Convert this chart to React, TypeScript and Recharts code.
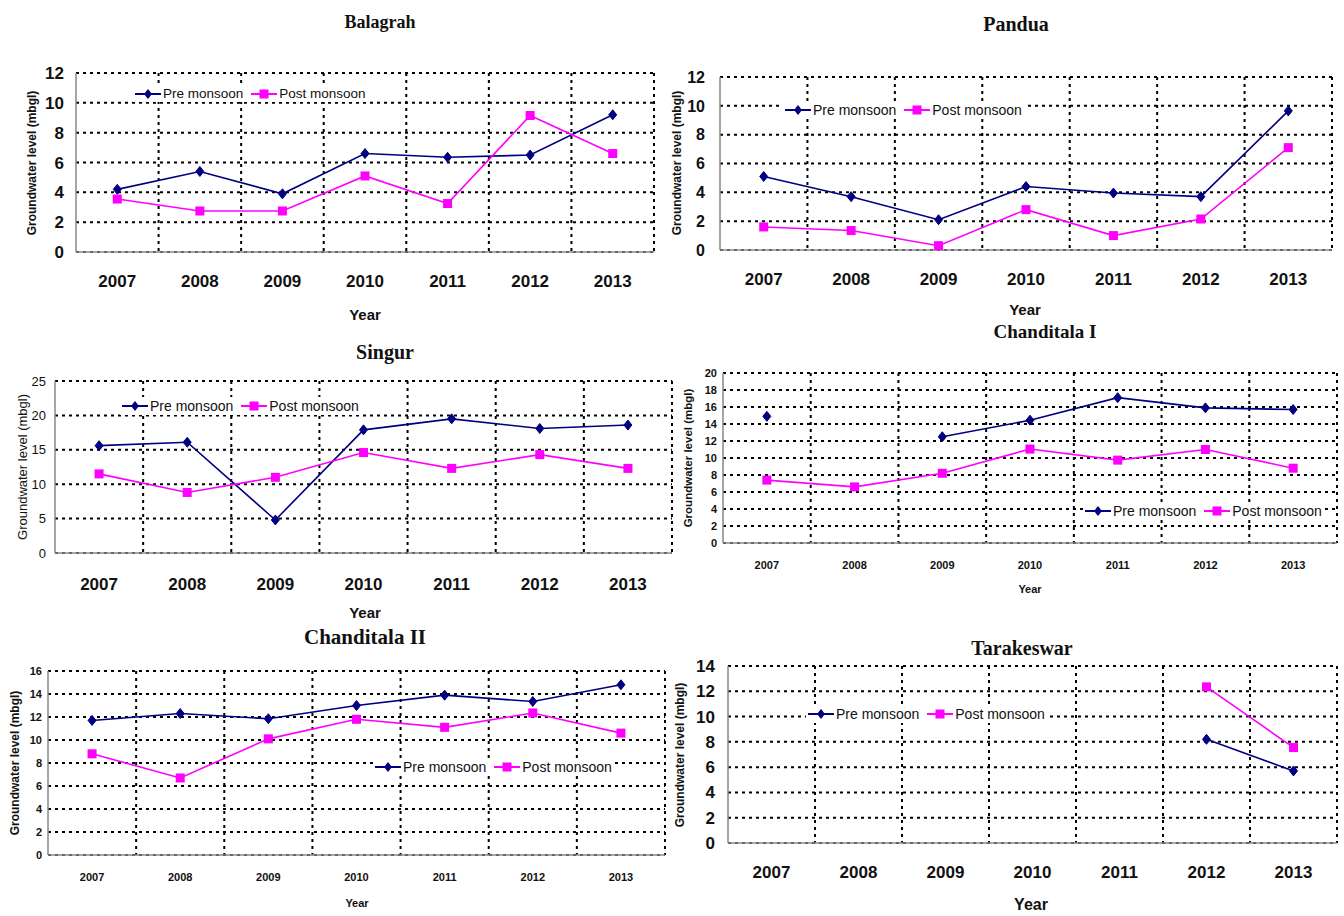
import React from "react";
import {
  CartesianGrid,
  Legend,
  Line,
  LineChart,
  XAxis,
  YAxis,
} from "recharts";

// ---- data ----
const years = ["2007", "2008", "2009", "2010", "2011", "2012", "2013"];

const balagrahPre = [4.2, 5.4, 3.9, 6.6, 6.35, 6.5, 9.2];
const balagrahPost = [3.55, 2.75, 2.75, 5.1, 3.25, 9.15, 6.6];

const panduaPre = [5.1, 3.7, 2.1, 4.4, 3.95, 3.7, 9.65];
const panduaPost = [1.6, 1.35, 0.3, 2.8, 1.0, 2.15, 7.1];

const singurPre = [15.6, 16.1, 4.8, 17.9, 19.5, 18.1, 18.6];
const singurPost = [11.5, 8.8, 11.0, 14.6, 12.3, 14.3, 12.3];

const chanditala1Pre = [14.9, null, 12.5, 14.45, 17.1, 15.9, 15.7];
const chanditala1Post = [7.4, 6.6, 8.2, 11.05, 9.75, 11.0, 8.8];

const chanditala2Pre = [11.7, 12.3, 11.85, 13.0, 13.9, 13.35, 14.8];
const chanditala2Post = [8.8, 6.7, 10.1, 11.8, 11.1, 12.35, 10.6];

const tarakeswarPre = [null, null, null, null, null, 8.2, 5.7];
const tarakeswarPost = [null, null, null, null, null, 12.35, 7.55];

const ticks12 = [0, 2, 4, 6, 8, 10, 12];
const ticks25 = [0, 5, 10, 15, 20, 25];
const ticks20 = [0, 2, 4, 6, 8, 10, 12, 14, 16, 18, 20];
const ticks16 = [0, 2, 4, 6, 8, 10, 12, 14, 16];
const ticks14 = [0, 2, 4, 6, 8, 10, 12, 14];

const seriesNames = ["Pre monsoon", "Post monsoon"];

const PRE = "#000080";
const POST = "#ff00ff";
const SANS = "'Liberation Sans', Arial, sans-serif";
const NARROW = "'Liberation Sans Narrow', 'Liberation Sans', Arial, sans-serif";
const SERIF = "'Liberation Serif', 'Times New Roman', serif";

const makeRows = (pre: (number | null)[], post: (number | null)[]) =>
  years.map((year, i) => ({ year, pre: pre[i], post: post[i] }));

// ---- layout per panel (page coordinates of plot area etc.) ----
const panels = [
  {
    title: "Balagrah", rows: makeRows(balagrahPre, balagrahPost), ticks: ticks12,
    L: 76, R: 654, T: 73, B: 252,
    titleAt: [380, 22, 18], yearAt: [365, 314, 15], yLabelAt: [32, 163, 12, 700],
    xFs: 17, xOff: 29, yFs: 17, yW: 700, yGap: 12, legendAt: [133, 94, 13.5],
  },
  {
    title: "Pandua", rows: makeRows(panduaPre, panduaPost), ticks: ticks12,
    L: 720, R: 1332, T: 77, B: 250,
    titleAt: [1016, 24, 20], yearAt: [1025, 309, 15], yLabelAt: [677, 163, 12, 700],
    xFs: 17, xOff: 29, yFs: 16, yW: 700, yGap: 15, legendAt: [783, 110, 14],
  },
  {
    title: "Singur", rows: makeRows(singurPre, singurPost), ticks: ticks25,
    L: 55, R: 672, T: 381, B: 553,
    titleAt: [385, 352, 20], yearAt: [365, 612, 15], yLabelAt: [22, 467, 13, 400],
    xFs: 17, xOff: 31, yFs: 13, yW: 400, yGap: 9, legendAt: [120, 406, 14],
  },
  {
    title: "Chanditala I", rows: makeRows(chanditala1Pre, chanditala1Post), ticks: ticks20,
    L: 723, R: 1337, T: 373, B: 543,
    titleAt: [1045, 331, 19], yearAt: [1030, 589, 11], yLabelAt: [689, 458, 11.5, 700],
    xFs: 11, xOff: 22, yFs: 11, yW: 700, yGap: 6, legendAt: [1083, 511, 14],
  },
  {
    title: "Chanditala II", rows: makeRows(chanditala2Pre, chanditala2Post), ticks: ticks16,
    L: 48, R: 665, T: 671, B: 855,
    titleAt: [365, 637, 21], yearAt: [357, 903, 11], yLabelAt: [15, 763, 12, 700],
    xFs: 11, xOff: 22, yFs: 11, yW: 700, yGap: 6, legendAt: [373, 767, 14],
  },
  {
    title: "Tarakeswar", rows: makeRows(tarakeswarPre, tarakeswarPost), ticks: ticks14,
    L: 728, R: 1337, T: 666, B: 843,
    titleAt: [1022, 648, 20], yearAt: [1031, 905, 16], yLabelAt: [680, 755, 12, 700],
    xFs: 17, xOff: 29, yFs: 17, yW: 700, yGap: 13, legendAt: [806, 714, 14],
  },
];

const diamondPath = (cx: number, cy: number, r: number) =>
  `M${cx},${cy - r}L${cx + r * 0.8},${cy}L${cx},${cy + r}L${cx - r * 0.8},${cy}Z`;

const DiamondDot = (props: any) => {
  const { cx, cy, index } = props;
  if (cx == null || cy == null) return <g key={`dd-${index}`} />;
  return <path key={`dd-${index}`} d={diamondPath(cx, cy, 5)} fill={PRE} stroke={PRE} />;
};

const SquareDot = (props: any) => {
  const { cx, cy, index } = props;
  if (cx == null || cy == null) return <g key={`sd-${index}`} />;
  return <rect key={`sd-${index}`} x={cx - 4.5} y={cy - 4.5} width={9} height={9} fill={POST} />;
};

const LegendBox = ({ fontSize }: { fontSize: number }) => (
  <div
    style={{
      display: "flex", alignItems: "center", fontFamily: NARROW, fontSize, color: "#111",
      whiteSpace: "nowrap", background: "#fff", padding: "1px 2px",
    }}
  >
    {seriesNames.map((name, i) => (
      <div key={name} style={{ display: "flex", alignItems: "center", marginRight: i === 0 ? 8 : 0 }}>
        <svg width={26} height={12} style={{ marginRight: 2 }}>
          <line x1={0} y1={6} x2={26} y2={6} stroke={i === 0 ? PRE : POST} strokeWidth={2} />
          {i === 0 ? (
            <path d={diamondPath(13, 6, 5)} fill={PRE} />
          ) : (
            <rect x={8.5} y={1.5} width={9} height={9} fill={POST} />
          )}
        </svg>
        <span>{name}</span>
      </div>
    ))}
  </div>
);

const TOP = 10;
const RIGHT = 10;
const YW = 60;
const XH = 50;

function Panel({ p }: { p: (typeof panels)[number] }) {
  const width = p.R - p.L + YW + RIGHT;
  const height = p.B - p.T + TOP + XH;
  const left = p.L - YW;
  const top = p.T - TOP;
  const max = p.ticks[p.ticks.length - 1];
  return (
    <>
      <div
        style={{
          position: "absolute", left: p.titleAt[0], top: p.titleAt[1],
          transform: "translate(-50%, -50%)", fontFamily: SERIF, fontWeight: 700,
          fontSize: p.titleAt[2], whiteSpace: "nowrap", color: "#111", lineHeight: 1,
        }}
      >
        {p.title}
      </div>
      <div
        style={{
          position: "absolute", left: p.yearAt[0], top: p.yearAt[1],
          transform: "translate(-50%, -50%)", fontFamily: NARROW, fontWeight: 700,
          fontSize: p.yearAt[2], whiteSpace: "nowrap", color: "#111", lineHeight: 1,
        }}
      >
        Year
      </div>
      <div
        style={{
          position: "absolute", left: p.yLabelAt[0], top: p.yLabelAt[1],
          transform: "translate(-50%, -50%) rotate(-90deg)", fontFamily: SANS,
          fontWeight: p.yLabelAt[3], fontSize: p.yLabelAt[2], whiteSpace: "nowrap", color: "#111",
          lineHeight: 1,
        }}
      >
        Groundwater level (mbgl)
      </div>
      <div style={{ position: "absolute", left, top, width, height }}>
        <LineChart width={width} height={height} data={p.rows} margin={{ top: TOP, right: RIGHT, left: 0, bottom: 0 }}>
          <CartesianGrid
            stroke="#000"
            strokeWidth={2}
            strokeDasharray="3 4"
            verticalCoordinatesGenerator={({ offset }: any) =>
              years.map((_, i) => offset.left + ((i + 1) * offset.width) / years.length)
            }
          />
          <XAxis
            dataKey="year"
            scale="band"
            height={XH}
            tickLine={false}
            axisLine={{ stroke: "#888", strokeWidth: 1.5 }}
            tickMargin={p.xOff - 6 - 0.36 * p.xFs}
            interval={0}
            tick={{ fontFamily: NARROW, fontSize: p.xFs, fontWeight: 700, fill: "#111" }}
          />
          <YAxis
            width={YW}
            domain={[0, max]}
            ticks={p.ticks}
            interval={0}
            tickLine={false}
            axisLine={{ stroke: "#888", strokeWidth: 1.5 }}
            tickMargin={p.yGap - 6}
            tick={{ fontFamily: NARROW, fontSize: p.yFs, fontWeight: p.yW, fill: "#111" }}
          />
          <Legend
            layout="horizontal"
            align="center"
            verticalAlign="middle"
            content={() => <LegendBox fontSize={p.legendAt[2]} />}
            wrapperStyle={{
              left: p.legendAt[0] - left,
              top: p.legendAt[1] - top - 9,
              width: "auto",
            }}
          />
          <Line
            dataKey="pre"
            name={seriesNames[0]}
            stroke={PRE}
            strokeWidth={1.6}
            dot={DiamondDot}
            activeDot={false}
            connectNulls={false}
            isAnimationActive={false}
          />
          <Line
            dataKey="post"
            name={seriesNames[1]}
            stroke={POST}
            strokeWidth={1.6}
            dot={SquareDot}
            activeDot={false}
            connectNulls={false}
            isAnimationActive={false}
          />
        </LineChart>
      </div>
    </>
  );
}

export default function App() {
  return (
    <div style={{ position: "absolute", left: 0, top: 0, width: 1344, height: 916, background: "#fff", overflow: "hidden" }}>
      {panels.map((p) => (
        <Panel key={p.title} p={p} />
      ))}
    </div>
  );
}
